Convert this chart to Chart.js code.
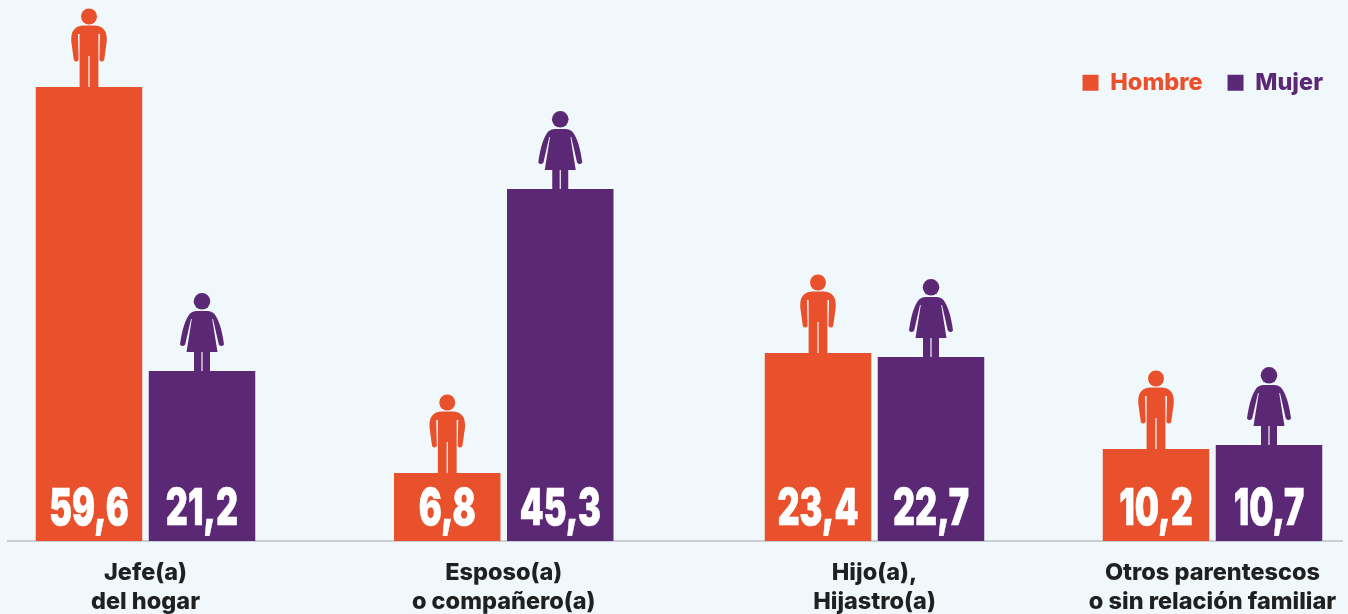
<!DOCTYPE html>
<html><head><meta charset="utf-8">
<script src="https://cdn.jsdelivr.net/npm/chart.js@4"></script>
<style>html,body{margin:0;padding:0;background:#f0f8fc;overflow:hidden}#w{position:relative;width:1348px;height:614px}</style>
</head><body><div id="w"><canvas id="c" width="1348" height="614"></canvas></div>
<script>
const categories = [["Jefe(a)","del hogar"],["Esposo(a)","o compañero(a)"],["Hijo(a),","Hijastro(a)"],["Otros parentescos","o sin relación familiar"]];
const hombre = [59.6, 6.8, 23.4, 10.2];
const mujer = [21.2, 45.3, 22.7, 10.7];
const seriesNames = ["Hombre","Mujer"];
const seriesColors = ["#e8512c","#5b2875"];

// The source infographic is not drawn to a linear scale: these stops describe its axis.
const axisStopValues = [0, 6.8, 10.2, 10.7, 21.2, 22.7, 23.4, 45.3, 59.6];
const axisStopHeights = [0, 68, 92, 96, 170, 184, 188, 352, 454];
// Uneven spacing of the four groups along the category axis (px from the axis start).
const groupOffsets = [137.5, 495.75, 866.5, 1204.5];

class StopsScale extends Chart.LinearScale {
  getPixelForValue(v){
    const V=axisStopValues,H=axisStopHeights;
    let h=H[H.length-1];
    for(let i=1;i<V.length;i++){ if(v<=V[i]){ h=H[i-1]+(v-V[i-1])/(V[i]-V[i-1])*(H[i]-H[i-1]); break; } }
    return this.bottom-h;
  }
}
StopsScale.id='stops'; StopsScale.defaults=Chart.LinearScale.defaults;
class SpacedCategory extends Chart.CategoryScale {
  getPixelForValue(v){
    if(typeof v!=='number') v=this.parse(v);
    return this.left+groupOffsets[v];
  }
}
SpacedCategory.id='spaced'; SpacedCategory.defaults=Chart.CategoryScale.defaults;
Chart.register(StopsScale,SpacedCategory);

function drawMan(ctx,x,y){
  ctx.save();ctx.translate(x,y);
  ctx.beginPath();ctx.arc(0,-70.5,8,0,Math.PI*2);ctx.fill();
  const p=new Path2D();
  p.moveTo(-9.4,0);p.lineTo(-9.4,-53);p.lineTo(-11,-53);
  p.lineTo(-10.4,-27);p.quadraticCurveTo(-12.8,-24,-15.2,-27);
  p.lineTo(-17.8,-46);p.quadraticCurveTo(-18.5,-61.5,-5,-61.5);
  p.lineTo(5,-61.5);p.quadraticCurveTo(18.5,-61.5,17.8,-46);
  p.lineTo(15.2,-27);p.quadraticCurveTo(12.8,-24,10.4,-27);
  p.lineTo(11,-53);p.lineTo(9.4,-53);p.lineTo(9.4,0);
  p.lineTo(0.6,0);p.lineTo(0.6,-31);p.lineTo(-0.6,-31);p.lineTo(-0.6,0);p.closePath();
  ctx.fill(p);ctx.restore();
}
function drawWoman(ctx,x,y){
  ctx.save();ctx.translate(x,y);
  ctx.beginPath();ctx.arc(0,-69.7,8.3,0,Math.PI*2);ctx.fill();
  const p=new Path2D();
  p.moveTo(-8,0);p.lineTo(-8,-19);p.lineTo(-15.5,-19);p.lineTo(-10.2,-52);p.lineTo(-11,-52);
  p.lineTo(-16.8,-26.5);p.quadraticCurveTo(-19.5,-23.5,-22,-26.5);
  p.quadraticCurveTo(-19,-49,-12,-57.5);p.quadraticCurveTo(-9.5,-60,-6,-60);
  p.lineTo(6,-60);p.quadraticCurveTo(9.5,-60,12,-57.5);p.quadraticCurveTo(19,-49,22,-26.5);
  p.quadraticCurveTo(19.5,-23.5,16.8,-26.5);
  p.lineTo(11,-52);p.lineTo(10.2,-52);p.lineTo(15.5,-19);p.lineTo(8,-19);p.lineTo(8,0);
  p.lineTo(0.6,0);p.lineTo(0.6,-19);p.lineTo(-0.6,-19);p.lineTo(-0.6,0);p.closePath();
  ctx.fill(p);ctx.restore();
}
const marks={
  id:'marks',
  beforeLayout(chart){
    const lg=chart.legend;
    if(lg && !lg._wrapped){const f=lg.fit;lg.fit=function(){f.call(this);this.height=0;};lg._wrapped=true;}
  },
  afterLayout(chart){
    const lg=chart.legend;
    lg.top=46; lg.bottom=120; lg.height=74; lg.left=900; lg.right=1348; lg.width=448;
    lg.adjustHitBoxes();
  },
  afterDatasetsDraw(chart){
    const ctx=chart.ctx;
    chart.data.datasets.forEach((ds,d)=>{
      chart.getDatasetMeta(d).data.forEach((bar,i)=>{
        ctx.fillStyle=seriesColors[d];
        (d===0?drawMan:drawWoman)(ctx,bar.x,bar.y);
        ctx.save();
        ctx.translate(bar.x,chart.scales.y.bottom-16);
        ctx.scale(0.67,1);
        ctx.font='900 51px Inter';
        ctx.fillStyle='#fff';ctx.strokeStyle='#fff';ctx.lineWidth=0.6;
        ctx.textAlign='center';ctx.textBaseline='alphabetic';
        const t=ds.data[i].toFixed(1).replace('.',',');
        ctx.fillText(t,0,0);
        ctx.strokeText(t,0,0);
        ctx.restore();
      });
    });
  }
};
new Chart(document.getElementById('c'),{
  type:'bar',
  data:{labels:categories,datasets:[
    {label:seriesNames[0],data:hombre,backgroundColor:seriesColors[0]},
    {label:seriesNames[1],data:mujer,backgroundColor:seriesColors[1]}
  ]},
  options:{
    responsive:false,animation:false,
    layout:{padding:{left:8,right:0,top:0,bottom:0}},
    categoryPercentage:226/338,barPercentage:106.5/113,
    scales:{
      x:{type:'spaced',
        grid:{display:false,drawTicks:false},
        border:{display:true,color:'#c9cfd4',width:2},
        afterFit(s){s.height=73;},
        ticks:{autoSkip:false,maxRotation:0,minRotation:0,padding:17,labelOffset:0,color:'#1f2020',
          font:{family:'Inter',weight:'800',size:23.5,lineHeight:1.25}}
      },
      y:{type:'stops',display:false,min:0,max:60}
    },
    plugins:{
      tooltip:{enabled:false},
      legend:{position:'top',align:'end',
        labels:{boxWidth:16,boxHeight:16,padding:25,
          font:{family:'Inter',weight:'800',size:23.5},
          generateLabels(chart){return chart.data.datasets.map((ds,i)=>({text:ds.label,fillStyle:seriesColors[i],strokeStyle:seriesColors[i],fontColor:seriesColors[i],lineWidth:0,datasetIndex:i}));}
        }
      }
    }
  },
  plugins:[marks]
});
</script></body></html>
